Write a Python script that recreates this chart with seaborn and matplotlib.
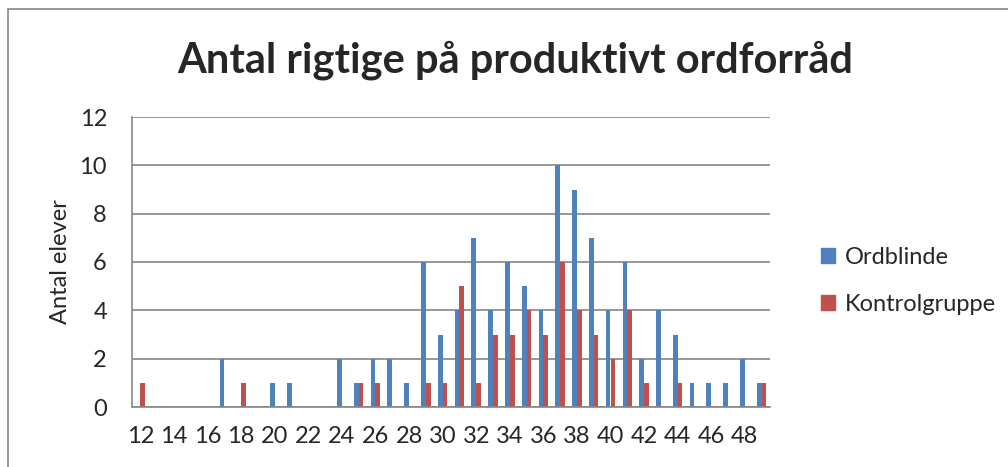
import pandas as pd
import numpy as np
import matplotlib
matplotlib.use("Agg")
import matplotlib.pyplot as plt
import matplotlib.patches as mpatches
import seaborn as sns

# antal rigtige (score) categories 12..49
scores = list(range(12, 50))
ordblinde = [0, 0, 0, 0, 0, 2, 0, 0, 1, 1, 0, 0, 2, 1, 2, 2, 1, 6, 3, 4,
             7, 4, 6, 5, 4, 10, 9, 7, 4, 6, 2, 4, 3, 1, 1, 1, 2, 1]
kontrol = [1, 0, 0, 0, 0, 0, 1, 0, 0, 0, 0, 0, 0, 1, 1, 0, 0, 1, 1, 5,
           1, 3, 3, 4, 3, 6, 4, 3, 2, 4, 1, 0, 1, 0, 0, 0, 0, 1]
groups = ["Ordblinde", "Kontrolgruppe"]
colors = ["#4F81BD", "#C0504D"]

df = pd.DataFrame({
    "score": [str(s) for s in scores] * 2,
    "antal": ordblinde + kontrol,
    "gruppe": [groups[0]] * len(scores) + [groups[1]] * len(scores),
})

sns.set_style("white")
plt.rcParams['font.family'] = ['Lato', 'DejaVu Sans']

fig = plt.figure(figsize=(10.08, 4.67), dpi=100)
ax = fig.add_axes([132 / 1008, 60 / 467, 638 / 1008, 290 / 467])

sns.barplot(data=df, x="score", y="antal", hue="gruppe", order=[str(s) for s in scores],
            hue_order=groups, palette=colors, width=0.57, saturation=1,
            linewidth=0, ax=ax, legend=False)

ax.set_ylim(0, 12)
ax.set_yticks(range(0, 13, 2))
ax.set_xlim(-0.5, len(scores) - 0.5)
ax.set_xticks(range(0, len(scores), 2))
ax.set_xticklabels([str(s) for s in scores[::2]])
ax.yaxis.grid(True, color="#868686", linewidth=1.2)
ax.set_axisbelow(True)
ax.tick_params(axis="both", labelsize=17, length=0)
ax.tick_params(axis="x", pad=14)
ax.tick_params(axis="y", pad=18)
for side in ["top", "right"]:
    ax.spines[side].set_visible(False)
for side in ["left", "bottom"]:
    ax.spines[side].set_color("#868686")
    ax.spines[side].set_linewidth(1.2)
ax.set_xlabel("")
ax.set_ylabel("Antal elever", fontsize=17, labelpad=6)

fig.text(515 / 1008, 1 - 60 / 467, "Antal rigtige på produktivt ordforråd",
         ha="center", va="center", fontsize=30, fontweight="bold")

handles = [mpatches.Patch(color=c, label=g) for c, g in zip(colors, groups)]
fig.legend(handles=handles, loc="center left", bbox_to_anchor=(800 / 1008, 1 - 281 / 467),
           frameon=False, fontsize=17, handlelength=0.6, handleheight=0.6,
           handletextpad=0.4, labelspacing=1.1)

# outer chart frame
fig.add_artist(mpatches.Rectangle((8 / 1008, -0.1), 1.2, 1 - 9 / 467 + 0.1,
                                  transform=fig.transFigure, fill=False,
                                  edgecolor="#868686", linewidth=1.2))

fig.savefig("out.png", dpi=100)
